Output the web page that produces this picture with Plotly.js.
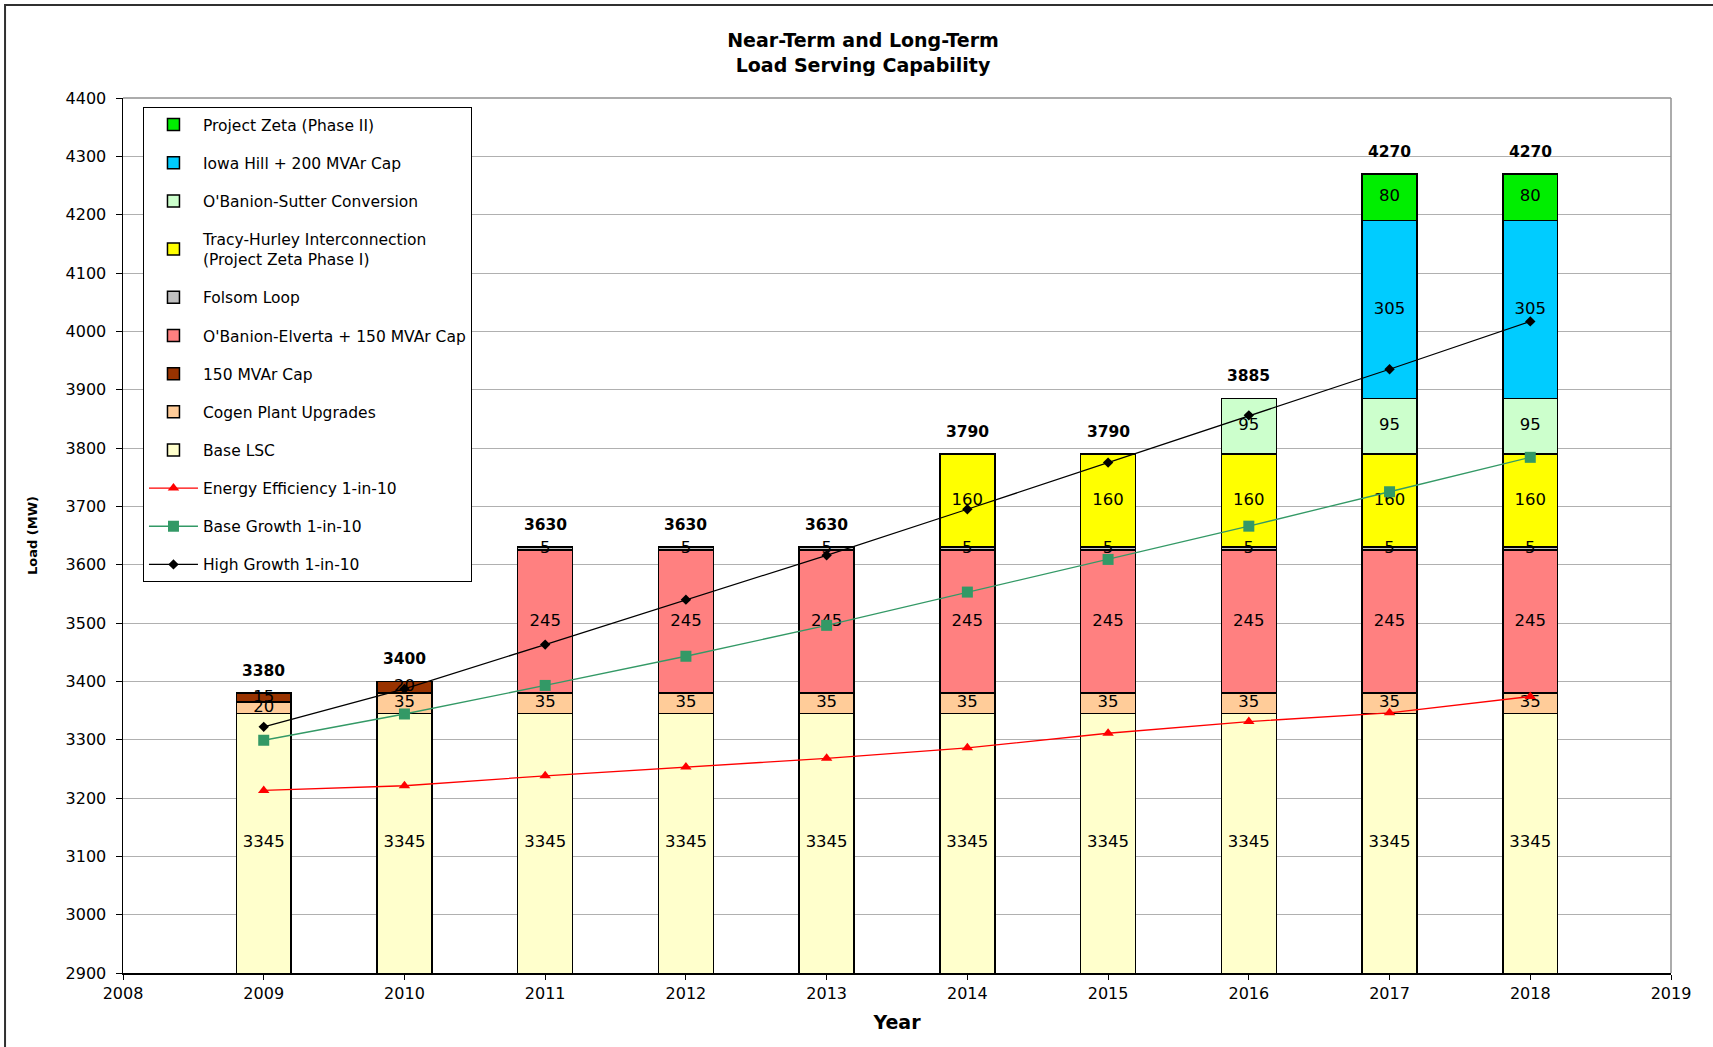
<!DOCTYPE html>
<html>
<head>
<meta charset="utf-8">
<script src="https://cdn.plot.ly/plotly-3.0.1.min.js"></script>
<style>
  html, body { margin: 0; padding: 0; background: #ffffff; }
  #chart { width: 1713px; height: 1047px; }
</style>
</head>
<body>
<div id="chart"></div>
<script>
// ---- Data ----
const years = [2009, 2010, 2011, 2012, 2013, 2014, 2015, 2016, 2017, 2018];

const baseLSC  = [3345, 3345, 3345, 3345, 3345, 3345, 3345, 3345, 3345, 3345];
const cogen    = [20, 35, 35, 35, 35, 35, 35, 35, 35, 35];
const cap150   = [15, 20, null, null, null, null, null, null, null, null];
const elverta  = [null, null, 245, 245, 245, 245, 245, 245, 245, 245];
const folsom   = [null, null, 5, 5, 5, 5, 5, 5, 5, 5];
const tracy    = [null, null, null, null, null, 160, 160, 160, 160, 160];
const sutter   = [null, null, null, null, null, null, null, 95, 95, 95];
const iowaHill = [null, null, null, null, null, null, null, null, 305, 305];
const zeta2    = [null, null, null, null, null, null, null, null, 80, 80];

const energyEff  = [3213, 3221, 3238, 3253, 3268, 3286, 3311, 3331, 3346, 3374];
const baseGrowth = [3299, 3344, 3393, 3443, 3496, 3553, 3609, 3666, 3725, 3784];
const highGrowth = [3322, 3387, 3463, 3540, 3616, 3695, 3775, 3856, 3935, 4017];

const barNames = [
  'Base LSC',
  'Cogen Plant Upgrades',
  '150 MVAr Cap',
  "O'Banion-Elverta + 150 MVAr Cap",
  'Folsom Loop',
  'Tracy-Hurley Interconnection<br>(Project Zeta Phase I)',
  "O'Banion-Sutter Conversion",
  'Iowa Hill + 200 MVAr Cap',
  'Project Zeta (Phase II)'
];
const barSeries = [baseLSC, cogen, cap150, elverta, folsom, tracy, sutter, iowaHill, zeta2];
const barColors = ['#ffffcc', '#ffcc99', '#993300', '#ff8080', '#c0c0c0', '#ffff00', '#ccffcc', '#00ccff', '#00ee00'];

// ---- Styling ----
const FONT = 'DejaVu Sans, Arial, sans-serif';
const yMin = 2900, yMax = 4400;

const traces = [];
const nBars = barSeries.length;

// Stacked bars
barSeries.forEach((vals, i) => {
  traces.push({
    type: 'bar',
    name: barNames[i],
    x: years,
    y: vals,
    width: 0.39,
    marker: { color: barColors[i], line: { color: '#000000', width: 1.5 } },
    legendrank: 100 + (nBars - i),
    legendgroup: 'g' + i,
    hoverinfo: 'skip'
  });
});

// Segment value labels (computed from the stacked data)
const cum = years.map(() => 0);
barSeries.forEach((vals, i) => {
  const lx = [], ly = [], lt = [];
  vals.forEach((v, j) => {
    if (v) {
      const lo = Math.max(cum[j], yMin);
      const hi = cum[j] + v;
      lx.push(years[j]);
      ly.push((lo + hi) / 2);
      lt.push(String(v));
    }
    cum[j] += (v || 0);
  });
  traces.push({
    type: 'scatter', mode: 'text',
    x: lx, y: ly, text: lt,
    textposition: 'middle center',
    textfont: { family: FONT, size: 16.5, color: '#000000' },
    showlegend: false, hoverinfo: 'skip'
  });
});

// Lines
traces.push({
  type: 'scatter', mode: 'lines+markers', name: 'Energy Efficiency 1-in-10',
  x: years, y: energyEff,
  line: { color: '#ff0000', width: 1.3 },
  marker: { symbol: 'triangle-up', size: 10, color: '#ff0000' },
  legendrank: 201, legendgroup: 'ee', hoverinfo: 'skip'
});
traces.push({
  type: 'scatter', mode: 'lines+markers', name: 'Base Growth 1-in-10',
  x: years, y: baseGrowth,
  line: { color: '#339966', width: 1.3 },
  marker: { symbol: 'square', size: 11, color: '#339966' },
  legendrank: 202, legendgroup: 'bg', hoverinfo: 'skip'
});
traces.push({
  type: 'scatter', mode: 'lines+markers', name: 'High Growth 1-in-10',
  x: years, y: highGrowth,
  line: { color: '#000000', width: 1.3 },
  marker: { symbol: 'diamond', size: 8, color: '#000000' },
  legendrank: 203, legendgroup: 'hg', hoverinfo: 'skip'
});

// Totals above bars
const annotations = years.map((yr, j) => ({
  x: yr, y: cum[j], xref: 'x', yref: 'y',
  text: '<b>' + cum[j] + '</b>',
  showarrow: false, yanchor: 'bottom', yshift: 11,
  font: { family: FONT, size: 15.5, color: '#000000' }
}));

const layout = {
  width: 1713, height: 1047,
  paper_bgcolor: '#ffffff', plot_bgcolor: '#ffffff',
  margin: { l: 123, r: 42, t: 98, b: 74 },
  barmode: 'stack',
  bargap: 0,
  showlegend: true,
  font: { family: FONT, size: 14, color: '#000000' },
  title: {
    text: '<b>Near-Term and Long-Term<br>Load Serving Capability</b>',
    x: 863 / 1713, xref: 'container', xanchor: 'center',
    y: 1 - 47 / 1047, yref: 'container', yanchor: 'top',
    font: { family: FONT, size: 19, color: '#000000' }
  },
  xaxis: {
    range: [2008, 2019], tick0: 2008, dtick: 1,
    showgrid: false, zeroline: false,
    showline: true, linecolor: '#000000', linewidth: 1.5,
    ticks: 'outside', ticklen: 5, tickcolor: '#000000',
    tickfont: { family: FONT, size: 16, color: '#000000' },
    title: { text: '<b>Year</b>', font: { family: FONT, size: 19, color: '#000000' }, standoff: 14 }
  },
  yaxis: {
    range: [yMin, yMax], tick0: 2900, dtick: 100,
    showgrid: true, gridcolor: '#b0b0b0', gridwidth: 1,
    zeroline: false,
    showline: true, linecolor: '#000000', linewidth: 1.5,
    ticks: 'outside', ticklen: 6, tickcolor: '#000000',
    ticklabelstandoff: 6,
    tickfont: { family: FONT, size: 16, color: '#000000' },
    title: { text: '<b>Load (MW)</b>', font: { family: FONT, size: 13, color: '#000000' }, standoff: 25 }
  },
  legend: {
    x: 0.0129, y: 0.9897, xanchor: 'left', yanchor: 'top',
    bgcolor: '#ffffff', bordercolor: '#000000', borderwidth: 1,
    font: { family: FONT, size: 15.5, color: '#000000' },
    traceorder: 'grouped', tracegroupgap: 15,
    itemwidth: 49
  },
  annotations: annotations,
  shapes: [
    // top and right plot-area edges (grey)
    { type: 'line', xref: 'paper', yref: 'paper', x0: 0, x1: 1, y0: 1, y1: 1, line: { color: '#909090', width: 1.5 } },
    { type: 'line', xref: 'paper', yref: 'paper', x0: 1, x1: 1, y0: 0, y1: 1, line: { color: '#909090', width: 1.5 } },
    // outer chart frame (left and top edges visible)
    { type: 'path', xref: 'paper', yref: 'paper',
      path: 'M -0.0762,-0.2 L -0.0762,1.1063 L 1.1,1.1063',
      line: { color: '#303030', width: 2 } }
  ]
};

Plotly.newPlot('chart', traces, layout, { staticPlot: true, displayModeBar: false });
</script>
</body>
</html>
